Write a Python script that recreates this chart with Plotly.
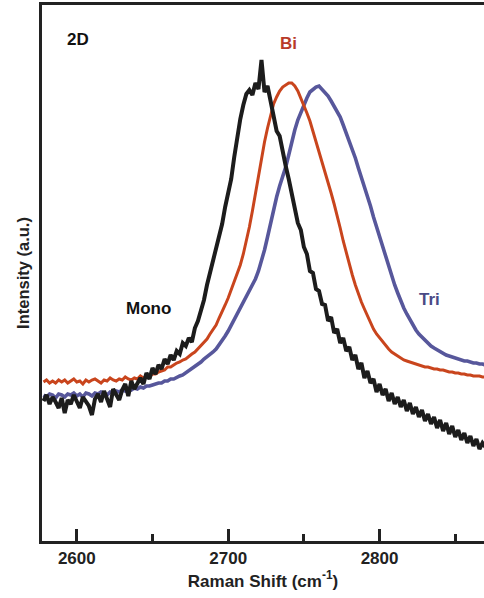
import plotly.graph_objects as go

# Raman shift positions (cm^-1)
shift = list(range(2578, 2872, 2))

mono = [140, 146, 137, 144, 139, 133, 143, 128, 141, 137, 146, 139, 133, 144, 140, 135, 126, 142, 147, 139,
        150, 143, 134, 152, 146, 141, 151, 157, 145, 160, 152, 158, 163, 157, 168, 162, 173, 167, 176, 172,
        182, 177, 186, 181, 190, 187, 198, 195, 203, 199, 213, 220, 230, 241, 256, 268, 280, 290, 304, 317,
        334, 348, 362, 384, 404, 422, 436, 447, 451, 446, 458, 452, 481, 449, 455, 441, 424, 410, 405, 388,
        375, 362, 346, 334, 318, 311, 294, 287, 270, 268, 252, 250, 237, 236, 220, 224, 208, 212, 198, 203,
        190, 194, 181, 186, 172, 178, 163, 170, 158, 162, 149, 157, 146, 152, 140, 148, 137, 144, 134, 141,
        130, 138, 127, 134, 124, 131, 120, 127, 117, 124, 113, 121, 110, 118, 107, 115, 104, 111, 101, 108,
        98, 105, 95, 102, 92, 98, 94]

bi = [159, 161, 158, 160, 158, 161, 159, 161, 158, 160, 162, 159, 160, 157, 161, 159, 161, 162, 160, 158,
      161, 160, 163, 161, 160, 162, 161, 164, 162, 161, 163, 162, 165, 163, 165, 164, 167, 167, 169, 170,
      171, 174, 174, 176, 178, 179, 181, 182, 185, 187, 189, 192, 196, 198, 202, 207, 211, 216, 223, 229,
      236, 243, 251, 258, 266, 276, 287, 299, 314, 330, 348, 366, 383, 399, 413, 426, 437, 444, 450, 454,
      456, 458, 458, 455, 450, 443, 435, 428, 420, 410, 400, 390, 380, 370, 359, 348, 337, 326, 313, 300,
      288, 277, 266, 256, 247, 239, 232, 225, 218, 212, 207, 203, 199, 195, 192, 189, 187, 185, 183, 181,
      180, 179, 178, 177, 176, 175, 174, 174, 173, 172, 172, 171, 171, 170, 169, 169, 168, 168, 167, 167,
      166, 166, 165, 165, 165, 164, 164]

tri = [146, 144, 147, 146, 143, 147, 146, 144, 147, 146, 148, 145, 147, 144, 148, 147, 145, 148, 147, 149,
       148, 146, 149, 148, 150, 149, 151, 150, 152, 151, 153, 152, 154, 153, 155, 155, 156, 157, 158, 158,
       160, 160, 162, 162, 164, 165, 166, 168, 170, 172, 174, 177, 179, 182, 184, 187, 189, 192, 196, 200,
       205, 210, 216, 222, 228, 234, 240, 246, 251, 256, 262, 270, 280, 291, 304, 318, 332, 344, 355, 364,
       374, 386, 399, 411, 421, 429, 437, 443, 449, 452, 454, 455, 452, 449, 445, 440, 435, 430, 424, 416,
       408, 400, 391, 383, 373, 364, 354, 345, 335, 324, 314, 304, 294, 284, 274, 265, 256, 248, 240, 233,
       227, 221, 216, 211, 207, 204, 200, 198, 195, 193, 191, 189, 187, 186, 185, 184, 183, 182, 181, 180,
       180, 179, 178, 178, 177, 177, 176]

x_ticks = [2600, 2700, 2800]
x_tick_labels = ["2600", "2700", "2800"]
x_minor_ticks = [2650, 2750, 2850]

fig = go.Figure()
fig.add_trace(go.Scatter(x=shift, y=tri, mode="lines", line=dict(color="#57579b", width=3.6), showlegend=False))
fig.add_trace(go.Scatter(x=shift, y=bi, mode="lines", line=dict(color="#c9451d", width=3), showlegend=False))
fig.add_trace(go.Scatter(x=shift, y=mono, mode="lines", line=dict(color="#1c1c1c", width=4), showlegend=False))

font_bold = "Liberation Sans, Arial, sans-serif"

fig.add_annotation(x=2601, y=502, text="<b>2D</b>", showarrow=False, font=dict(size=17, color="#111", family=font_bold))
fig.add_annotation(x=2739.6, y=498, text="<b>Bi</b>", showarrow=False, font=dict(size=17, color="#b83a28", family=font_bold))
fig.add_annotation(x=2647.5, y=233, text="<b>Mono</b>", showarrow=False, font=dict(size=17, color="#111", family=font_bold))
fig.add_annotation(x=2833, y=242, text="<b>Tri</b>", showarrow=False, font=dict(size=17, color="#4a4a86", family=font_bold))

fig.update_layout(
    width=484, height=598,
    margin=dict(l=42, r=0, t=5, b=57),
    paper_bgcolor="white", plot_bgcolor="white",
    xaxis=dict(
        range=[2577, 2869], showgrid=False, zeroline=False,
        showline=True, linewidth=3, linecolor="#222", mirror=True,
        tickmode="array", tickvals=x_ticks, ticktext=["<b>%s</b>" % t for t in x_tick_labels],
        ticks="inside", ticklen=12, tickwidth=3, tickcolor="#222",
        tickfont=dict(size=17, color="#222", family=font_bold),
        minor=dict(tickmode="array", tickvals=x_minor_ticks, ticks="inside", ticklen=7, tickwidth=3, tickcolor="#222"),
        title=dict(text="<b>Raman Shift (cm<sup>-1</sup>)</b>", font=dict(size=17, color="#222", family=font_bold), standoff=4),
        automargin=False,
    ),
    yaxis=dict(
        range=[0, 536], showgrid=False, zeroline=False,
        showline=True, linewidth=3, linecolor="#222", mirror=False,
        showticklabels=False, ticks="",
        title=dict(text="<b>Intensity (a.u.)</b>", font=dict(size=16.5, color="#222", family=font_bold), standoff=6),
        automargin=False,
    ),
)

fig.write_html("out.html", config={"displayModeBar": False}, post_script="document.body.style.margin='0';")
